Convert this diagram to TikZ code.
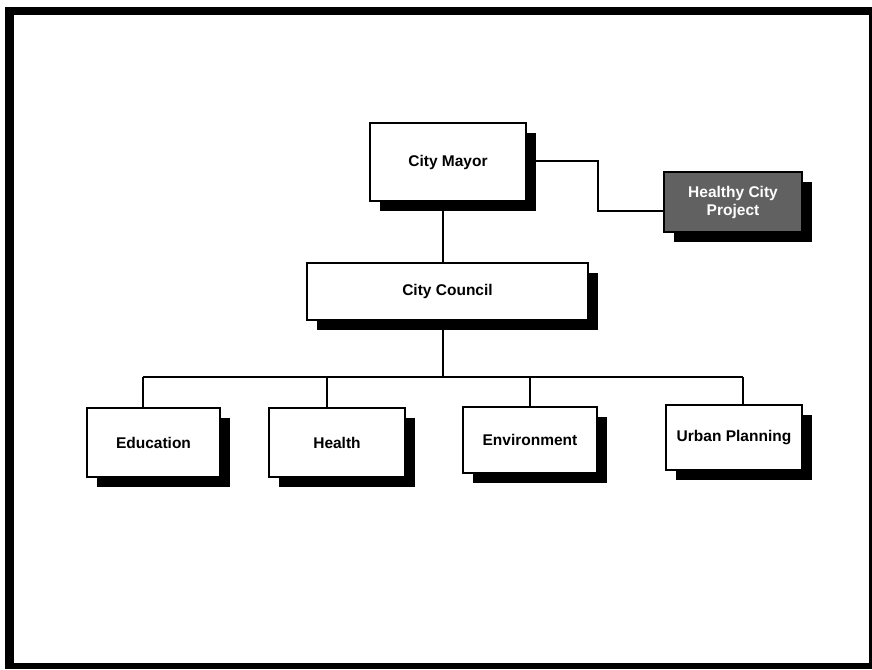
\documentclass[tikz,border=0pt]{standalone}
\usepackage{fontspec}
\setmainfont{Liberation Sans}
\usetikzlibrary{shadows}
\begin{document}
\begin{tikzpicture}[x=1pt,y=-1pt,
  orgbox/.style={draw=black, line width=2pt, fill=white, inner sep=0pt,
    font=\fontsize{15.5}{18}\selectfont\bfseries, align=center,
    drop shadow={shadow xshift=10pt, shadow yshift=-10pt, fill=black, opacity=1}},
  darkbox/.style={orgbox, fill=black!62, text=white},
  link/.style={draw=black, line width=2pt}]
\useasboundingbox (0,0) rectangle (872,669);
% frame
\fill[black] (5,7) rectangle (872,15);
\fill[black] (5,7) rectangle (14,669);
\fill[black] (5,663) rectangle (872,669);
\fill[black] (869,7) rectangle (872,669);
% nodes
\node[orgbox, minimum width=156pt, minimum height=78pt] (mayor) at (448,162) {City Mayor};
\node[darkbox, minimum width=138pt, minimum height=60pt] (healthy) at (733,202) {Healthy City\\Project};
\node[orgbox, minimum width=281pt, minimum height=57pt] (council) at (447.5,291.5) {City Council};
\node[orgbox, minimum width=133pt, minimum height=69pt] (edu) at (153.5,442.5) {Education};
\node[orgbox, minimum width=136pt, minimum height=69pt] (health) at (337,442.5) {Health};
\node[orgbox, minimum width=134pt, minimum height=66pt] (env) at (530,440) {Environment};
\node[orgbox, minimum width=136pt, minimum height=65pt] (urban) at (734,437.5) {Urban Planning};
\coordinate (bus) at (443,377);
% connectors
\draw[link] ([xshift=-5pt]mayor.south) -- ([xshift=-5pt]mayor.south |- council.north);
\draw[link] ([yshift=1pt]mayor.east) -- ++(71,0) |- ([yshift=-9pt]healthy.west);
\draw[link] ([xshift=-4.5pt]council.south) -- (bus);
\draw[link] ([xshift=-10.5pt]edu.north |- bus) -- ([xshift=9pt]urban.north |- bus);
\draw[link] ([xshift=-10.5pt]edu.north) -- ([xshift=-10.5pt]edu.north |- bus);
\draw[link] ([xshift=-10pt]health.north) -- ([xshift=-10pt]health.north |- bus);
\draw[link] (env.north) -- (env.north |- bus);
\draw[link] ([xshift=9pt]urban.north) -- ([xshift=9pt]urban.north |- bus);
\end{tikzpicture}
\end{document}
